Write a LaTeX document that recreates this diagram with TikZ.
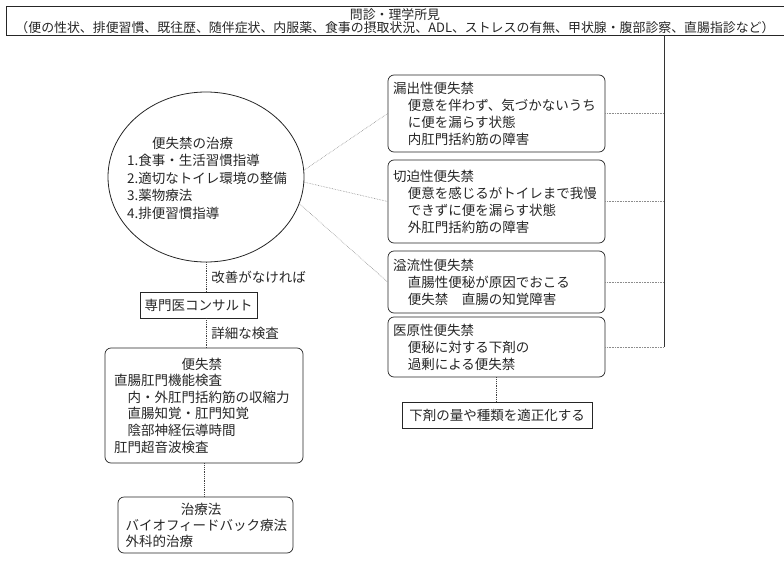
\documentclass[tikz,border=0pt]{standalone}
\usepackage{fontspec}
\setmainfont{Noto Sans CJK JP}
\usepackage{tikz}
\usetikzlibrary{shapes.geometric}

\tikzset{
  txt/.style={text=black!85, font=\fontsize{13.5bp}{17bp}\selectfont},
  sqbox/.style={txt, draw=black!85, line width=0.7bp, rectangle, inner sep=4bp},
  rbox/.style={sqbox, rounded corners=6bp, align=left},
  flow/.style={densely dotted, line width=0.8bp, black!75},
  link/.style={densely dotted, line width=0.6bp, black!45},
  rail/.style={line width=0.7bp, black!80},
}

\begin{document}
\begin{tikzpicture}
	\useasboundingbox (0bp,0bp) rectangle (784bp,-564bp);

	\node (head)   at (399bp,-20.5bp)  [sqbox, minimum width=786bp, minimum height=29bp, inner sep=0pt] {};
	\node (headtx) at (395bp,-21bp)    [txt, align=center, inner sep=0pt, font=\fontsize{12.9bp}{12.5bp}\selectfont] {問診・理学所見\\（便の性状、排便習慣、既往歴、随伴症状、内服薬、食事の摂取状況、ADL、ストレスの有無、甲状腺・腹部診察、直腸指診など）};

	\node (cure)   at (206bp,-177bp)   [draw=black!85, line width=0.8bp, ellipse, minimum width=196bp, minimum height=170bp] {};
	\node (curetx) at (127bp,-178bp)   [txt, anchor=west, align=left, inner sep=0pt, font=\fontsize{13.5bp}{17.5bp}\selectfont] {\hspace*{1.85em}便失禁の治療\\1.食事・生活習慣指導\\2.適切なトイレ環境の整備\\3.薬物療法\\4.排便習慣指導};

	\node (leak)   at (496.5bp,-113.5bp) [rbox, text width=207bp, inner xsep=5bp, minimum height=77bp] {漏出性便失禁\\\hspace*{1.1em}便意を伴わず、気づかないうち\\\hspace*{1.1em}に便を漏らす状態\\\hspace*{1.1em}内肛門括約筋の障害};
	\node (urge)   at (496.5bp,-201.5bp) [rbox, text width=207bp, inner xsep=5bp, minimum height=83bp] {切迫性便失禁\\\hspace*{1.1em}便意を感じるがトイレまで我慢\\\hspace*{1.1em}できずに便を漏らす状態\\\hspace*{1.1em}外肛門括約筋の障害};
	\node (over)   at (496.5bp,-282bp)   [rbox, text width=207bp, inner xsep=5bp, minimum height=62bp] {溢流性便失禁\\\hspace*{1.1em}直腸性便秘が原因でおこる\\\hspace*{1.1em}便失禁　直腸の知覚障害};
	\node (iatro)  at (496.5bp,-347bp)   [rbox, text width=207bp, inner xsep=5bp, minimum height=60bp] {医原性便失禁\\\hspace*{1.1em}便秘に対する下剤の\\\hspace*{1.1em}過剰による便失禁};
	\node (laxbox) at (497bp,-415bp)     [sqbox, minimum width=190bp, minimum height=26bp] {下剤の量や種類を適正化する};

	\node (consult) at (198.5bp,-305bp)  [sqbox, minimum width=117bp, minimum height=26bp] {専門医コンサルト};
	\node (exam)    at (204bp,-405.5bp)  [rbox, text width=180bp, inner xsep=9bp, minimum height=115bp, font=\fontsize{13.5bp}{16.6bp}\selectfont] {\hspace*{5em}便失禁\\直腸肛門機能検査\\\hspace*{1em}内・外肛門括約筋の収縮力\\\hspace*{1em}直腸知覚・肛門知覚\\\hspace*{1em}陰部神経伝導時間\\肛門超音波検査};
	\node (treat)   at (205.5bp,-525bp)  [rbox, text width=160bp, inner xsep=7.5bp, minimum height=56bp, font=\fontsize{13.5bp}{16bp}\selectfont] {\hspace*{4.1em}治療法\\バイオフィードバック療法\\外科的治療};

	\coordinate (rail) at (664bp,-35bp);

	\draw [rail] (head.south -| rail) -- (iatro.east -| rail);
	\draw [link] (leak.east)  -- (leak.east -| rail);
	\draw [link] (urge.east)  -- (urge.east -| rail);
	\draw [link] (over.east)  -- (over.east -| rail);
	\draw [link] (iatro.east) -- (iatro.east -| rail);

	\draw [link] (cure.4)   -- (leak.west);
	\draw [link] (cure.-3)  -- (urge.west);
	\draw [link] (cure.-16) -- (over.west);

	\draw [flow] (cure.south) -- node[txt, right, inner sep=5bp] {改善がなければ} (cure.south |- consult.north);
	\draw [flow] (cure.south |- consult.south) -- node[txt, right, inner sep=5bp] {詳細な検査} (cure.south |- exam.north);
	\draw [flow] (exam.south) -- (exam.south |- treat.north);
	\draw [flow] (iatro.south) -- (iatro.south |- laxbox.north);
\end{tikzpicture}
\end{document}
